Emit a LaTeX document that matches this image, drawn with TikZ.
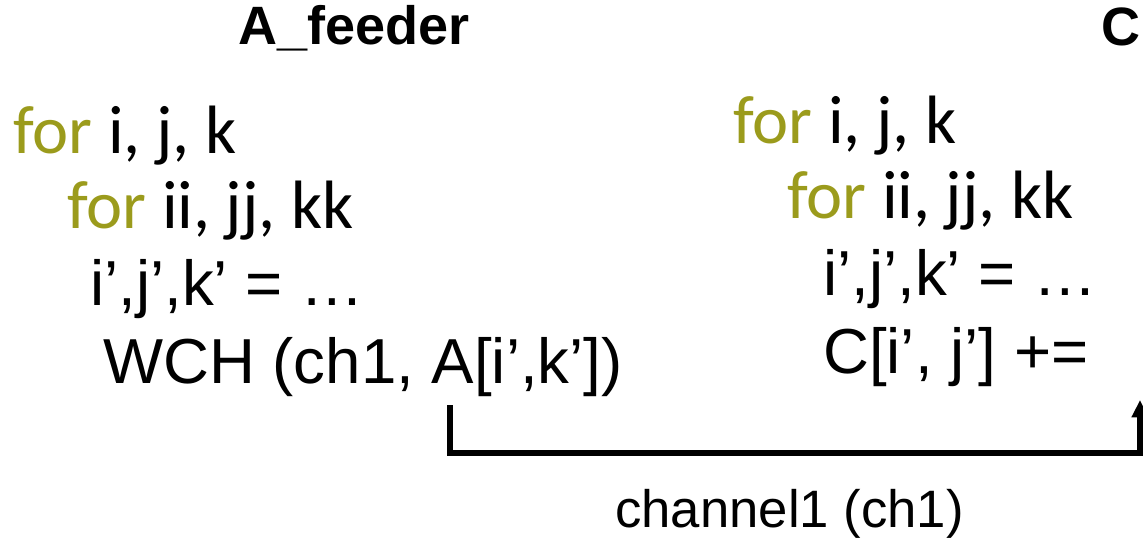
\documentclass[tikz,border=0pt]{standalone}
\usepackage{fontspec}
\setmainfont{Liberation Sans}
\newfontfamily\loopfont{Carlito}
\usepackage{xcolor}
\usetikzlibrary{arrows.meta}
\definecolor{kwolive}{RGB}{155,155,28}
\newcommand\kwfor{\textcolor{kwolive}{for}}

\begin{document}
\begin{tikzpicture}[
  x=0.75pt,y=-0.75pt,
  txt/.style={anchor=base west,inner sep=0pt,font=\fontsize{47.7}{57}\selectfont},
  loophead/.style={txt,font=\loopfont\fontsize{51.3}{61}\selectfont},
  ttl/.style={txt,font=\bfseries\fontsize{40.5}{48}\selectfont},
  chan/.style={line width=4.3pt,-{Triangle[length=13pt,width=12pt]}}
]
\useasboundingbox (0,0) rectangle (1143,542);

% producer kernel
\node[ttl] (feeder) at (238,45) {A\_feeder};
\node[loophead] (lfor1) at (13,153) {\kwfor{} i, j, k};
\node[loophead] (lfor2) at (67,228) {\kwfor{} ii, jj, kk};
\node[txt] (lidx) at (90,305) {i’,j’,k’ = …};
\node[txt] (lwch) at (103,383) {WCH (ch1, A[i’,k’])};

% consumer kernel
\node[ttl] (cname) at (1101,46) {C};
\node[loophead] (rfor1) at (733,143) {\kwfor{} i, j, k};
\node[loophead] (rfor2) at (787,218) {\kwfor{} ii, jj, kk};
\node[txt] (ridx) at (823,295) {i’,j’,k’ = …};
\node[txt] (racc) at (823,373) {C[i’, j’] +=};

% the channel between them
\coordinate (chsrc) at (450,405);
\coordinate (chbend) at (1140,453);
\coordinate (chdst) at (1140,400);
\draw[chan] (chsrc) |- (chbend) -- (chdst);
\node[txt,font=\fontsize{39.5}{47}\selectfont] (chlabel) at (615,527) {channel1 (ch1)};
\end{tikzpicture}
\end{document}
